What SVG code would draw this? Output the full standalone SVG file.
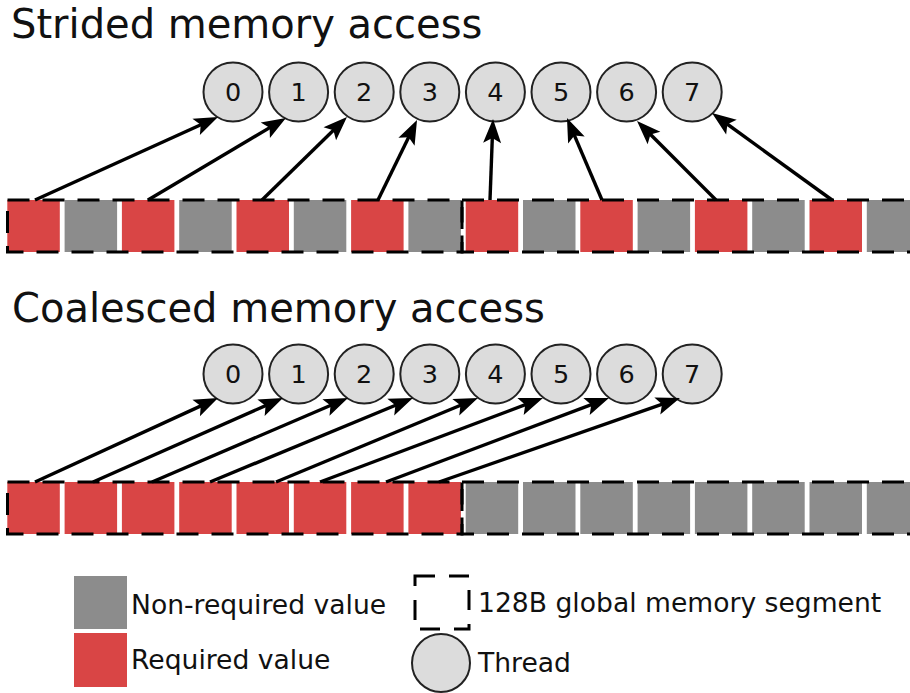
<svg xmlns="http://www.w3.org/2000/svg" width="910" height="693" viewBox="0 0 910 693">
<style>
text{font-family:"DejaVu Sans","Liberation Sans",sans-serif;fill:#111}
.title{font-size:40px}
.num{font-size:25.5px;text-anchor:middle}
.leg{font-size:26.6px}
.req{fill:#d94545}
.non{fill:#8c8c8c}
.thr{fill:#dcdcdc;stroke:#222;stroke-width:2}
.seg{fill:none;stroke:#000;stroke-width:3;stroke-dasharray:22,13}
.arr{stroke:#000;stroke-width:3.4;fill:none;marker-end:url(#ah)}
</style>
<defs>
<marker id="ah" markerUnits="userSpaceOnUse" orient="auto" overflow="visible" refX="0" refY="0" markerWidth="26" markerHeight="20">
<path d="M11,0 L-13,-9 L-8,0 L-13,9 Z" fill="#000"/>
</marker>
</defs>
<rect width="910" height="693" fill="#fff"/>
<text class="title" x="11" y="38">Strided memory access</text>
<text class="title" x="12" y="322">Coalesced memory access</text>

<g id="strided-cells">
<rect class="req" x="7.3" y="200" width="52.5" height="52"/>
<rect class="non" x="64.6" y="200" width="52.5" height="52"/>
<rect class="req" x="121.9" y="200" width="52.5" height="52"/>
<rect class="non" x="179.2" y="200" width="52.5" height="52"/>
<rect class="req" x="236.5" y="200" width="52.5" height="52"/>
<rect class="non" x="293.8" y="200" width="52.5" height="52"/>
<rect class="req" x="351.1" y="200" width="52.5" height="52"/>
<rect class="non" x="408.4" y="200" width="52.5" height="52"/>
<rect class="req" x="465.7" y="200" width="52.5" height="52"/>
<rect class="non" x="523.0" y="200" width="52.5" height="52"/>
<rect class="req" x="580.3" y="200" width="52.5" height="52"/>
<rect class="non" x="637.6" y="200" width="52.5" height="52"/>
<rect class="req" x="694.9" y="200" width="52.5" height="52"/>
<rect class="non" x="752.2" y="200" width="52.5" height="52"/>
<rect class="req" x="809.5" y="200" width="52.5" height="52"/>
<rect class="non" x="866.8" y="200" width="52.5" height="52"/>
</g>
<g id="strided-segments">
<rect class="seg" x="7.5" y="200" width="454.5" height="52"/>
<rect class="seg" x="462" y="200" width="470" height="52"/>
</g>

<g id="coalesced-cells">
<rect class="req" x="7.3" y="482" width="52.5" height="52"/>
<rect class="req" x="64.6" y="482" width="52.5" height="52"/>
<rect class="req" x="121.9" y="482" width="52.5" height="52"/>
<rect class="req" x="179.2" y="482" width="52.5" height="52"/>
<rect class="req" x="236.5" y="482" width="52.5" height="52"/>
<rect class="req" x="293.8" y="482" width="52.5" height="52"/>
<rect class="req" x="351.1" y="482" width="52.5" height="52"/>
<rect class="req" x="408.4" y="482" width="52.5" height="52"/>
<rect class="non" x="465.7" y="482" width="52.5" height="52"/>
<rect class="non" x="523.0" y="482" width="52.5" height="52"/>
<rect class="non" x="580.3" y="482" width="52.5" height="52"/>
<rect class="non" x="637.6" y="482" width="52.5" height="52"/>
<rect class="non" x="694.9" y="482" width="52.5" height="52"/>
<rect class="non" x="752.2" y="482" width="52.5" height="52"/>
<rect class="non" x="809.5" y="482" width="52.5" height="52"/>
<rect class="non" x="866.8" y="482" width="52.5" height="52"/>
</g>
<g id="coalesced-segments">
<rect class="seg" x="7.5" y="482" width="454.5" height="52"/>
<rect class="seg" x="462" y="482" width="470" height="52"/>
</g>

<g id="strided-threads">
<g id="s-t0"><circle class="thr" cx="233" cy="92" r="29.5"/><text class="num" x="233" y="101">0</text></g>
<g id="s-t1"><circle class="thr" cx="298.6" cy="92" r="29.5"/><text class="num" x="298.6" y="101">1</text></g>
<g id="s-t2"><circle class="thr" cx="364.2" cy="92" r="29.5"/><text class="num" x="364.2" y="101">2</text></g>
<g id="s-t3"><circle class="thr" cx="429.8" cy="92" r="29.5"/><text class="num" x="429.8" y="101">3</text></g>
<g id="s-t4"><circle class="thr" cx="495.4" cy="92" r="29.5"/><text class="num" x="495.4" y="101">4</text></g>
<g id="s-t5"><circle class="thr" cx="561" cy="92" r="29.5"/><text class="num" x="561" y="101">5</text></g>
<g id="s-t6"><circle class="thr" cx="626.6" cy="92" r="29.5"/><text class="num" x="626.6" y="101">6</text></g>
<g id="s-t7"><circle class="thr" cx="692.2" cy="92" r="29.5"/><text class="num" x="692.2" y="101">7</text></g>
</g>
<g id="coalesced-threads">
<g id="c-t0"><circle class="thr" cx="233" cy="374" r="29.5"/><text class="num" x="233" y="383">0</text></g>
<g id="c-t1"><circle class="thr" cx="298.6" cy="374" r="29.5"/><text class="num" x="298.6" y="383">1</text></g>
<g id="c-t2"><circle class="thr" cx="364.2" cy="374" r="29.5"/><text class="num" x="364.2" y="383">2</text></g>
<g id="c-t3"><circle class="thr" cx="429.8" cy="374" r="29.5"/><text class="num" x="429.8" y="383">3</text></g>
<g id="c-t4"><circle class="thr" cx="495.4" cy="374" r="29.5"/><text class="num" x="495.4" y="383">4</text></g>
<g id="c-t5"><circle class="thr" cx="561" cy="374" r="29.5"/><text class="num" x="561" y="383">5</text></g>
<g id="c-t6"><circle class="thr" cx="626.6" cy="374" r="29.5"/><text class="num" x="626.6" y="383">6</text></g>
<g id="c-t7"><circle class="thr" cx="692.2" cy="374" r="29.5"/><text class="num" x="692.2" y="383">7</text></g>
</g>

<g id="connectors">
<path class="arr" d="M35,200 L208,121.5"/>
<path class="arr" d="M148,200 L276.5,123.6"/>
<path class="arr" d="M262,200 L339.1,124.7"/>
<path class="arr" d="M378,200 L412.2,130"/>
<path class="arr" d="M490,200 L492.6,130"/>
<path class="arr" d="M602,200 L571.3,128.1"/>
<path class="arr" d="M716,200 L644.8,128.8"/>
<path class="arr" d="M832,200 L720.9,119.5"/>
<path class="arr" d="M35,482 L208,402.6"/>
<path class="arr" d="M93,482 L272.9,402.4"/>
<path class="arr" d="M152,482 L337.9,402.3"/>
<path class="arr" d="M210,482 L402.8,402.2"/>
<path class="arr" d="M276,482 L467.8,402.2"/>
<path class="arr" d="M320,482 L532.7,401.9"/>
<path class="arr" d="M386,482 L598.7,401.9"/>
<path class="arr" d="M439,482 L669.6,401.6"/>
</g>

<g id="legend">
<g id="leg-non"><rect class="non" x="74" y="576" width="53" height="53"/><text class="leg" x="131" y="614">Non-required value</text></g>
<g id="leg-req"><rect class="req" x="74" y="633" width="53" height="54"/><text class="leg" x="131" y="669">Required value</text></g>
<g id="leg-seg"><rect x="415" y="576" width="54" height="53" fill="none" stroke="#000" stroke-width="3" stroke-dasharray="20,14"/><text class="leg" x="478" y="612">128B global memory segment</text></g>
<g id="leg-thr"><circle class="thr" cx="441" cy="663" r="29"/><text class="leg" x="478" y="672">Thread</text></g>
</g>
</svg>
